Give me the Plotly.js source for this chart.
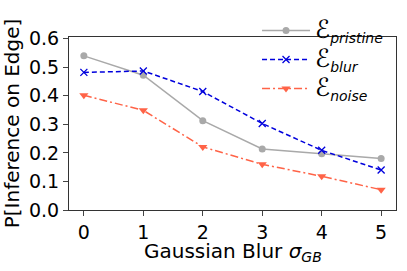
<!DOCTYPE html>
<html><head><meta charset="utf-8">
<script src="https://cdn.plot.ly/plotly-3.0.1.min.js"></script>
<style>html,body{margin:0;padding:0;background:#fff}#chart{width:407px;height:271px}</style>
</head><body><div id="chart"></div>
<script>
const sigma = [0, 1, 2, 3, 4, 5];
const pristine = [0.540, 0.472, 0.313, 0.214, 0.197, 0.180];
const blur = [0.482, 0.487, 0.415, 0.303, 0.209, 0.140];
const noise = [0.402, 0.349, 0.221, 0.160, 0.118, 0.071];
const yTicks = [0, 0.1, 0.2, 0.3, 0.4, 0.5, 0.6];
const yTickText = ['0.0', '0.1', '0.2', '0.3', '0.4', '0.5', '0.6'];
const seriesNames = ['pristine', 'blur', 'noise'];

const E = s => '<span style="font-size:25px">ℰ</span><sub><i>' + s + '</i></sub>';
const traces = [
  {x: sigma, y: pristine, name: E(seriesNames[0]), mode: 'lines+markers',
   line: {color: '#a9a9a9', width: 1.5, dash: 'solid'}, marker: {symbol: 'circle', size: 7, color: '#a9a9a9'}},
  {x: sigma, y: blur, name: E(seriesNames[1]), mode: 'lines+markers',
   line: {color: '#0000dd', width: 1.5, dash: '5px,3px'}, marker: {symbol: 'x-thin-open', size: 7, color: '#0000dd', line: {width: 1.3, color: '#0000dd'}}},
  {x: sigma, y: noise, name: E(seriesNames[2]), mode: 'lines+markers',
   line: {color: '#ff6347', width: 1.5, dash: '8px,3px,2px,3px'}, marker: {symbol: 'triangle-down', size: 8, color: '#ff6347'}}
];

const layout = {
  width: 407, height: 271,
  margin: {l: 69, r: 11, t: 20, b: 61},
  paper_bgcolor: '#fff', plot_bgcolor: '#fff',
  font: {family: 'DejaVu Sans', size: 19, color: '#000'},
  showlegend: true,
  legend: {x: 0.575, y: 1.15, xanchor: 'left', yanchor: 'top', bgcolor: 'rgba(0,0,0,0)',
           font: {size: 20, family: 'DejaVu Sans'}, itemwidth: 48, tracegroupgap: 0},
  xaxis: {range: [-0.25, 5.25], tickvals: sigma, ticks: 'outside', ticklen: 5, tickwidth: 1,
          showline: true, mirror: true, linecolor: '#333', linewidth: 1, showgrid: false, zeroline: false,
          tickfont: {size: 19}},
  yaxis: {range: [0, 0.606], tickvals: yTicks, ticktext: yTickText, ticks: 'outside', ticklen: 5, tickwidth: 1,
          showline: true, mirror: true, linecolor: '#333', linewidth: 1, showgrid: false, zeroline: false,
          tickfont: {size: 19},
          title: {text: 'P[Inference on Edge]', font: {size: 20}, standoff: 4}},
  annotations: [{text: 'Gaussian Blur <i>σ</i><sub><i>GB</i></sub>', xref: 'paper', yref: 'paper',
                 x: 0.5, y: -0.158, xanchor: 'center', yanchor: 'top', showarrow: false,
                 font: {size: 20, family: 'DejaVu Sans', color: '#000'}}]
};
Plotly.newPlot('chart', traces, layout, {displayModeBar: false, staticPlot: true});
</script></body></html>
